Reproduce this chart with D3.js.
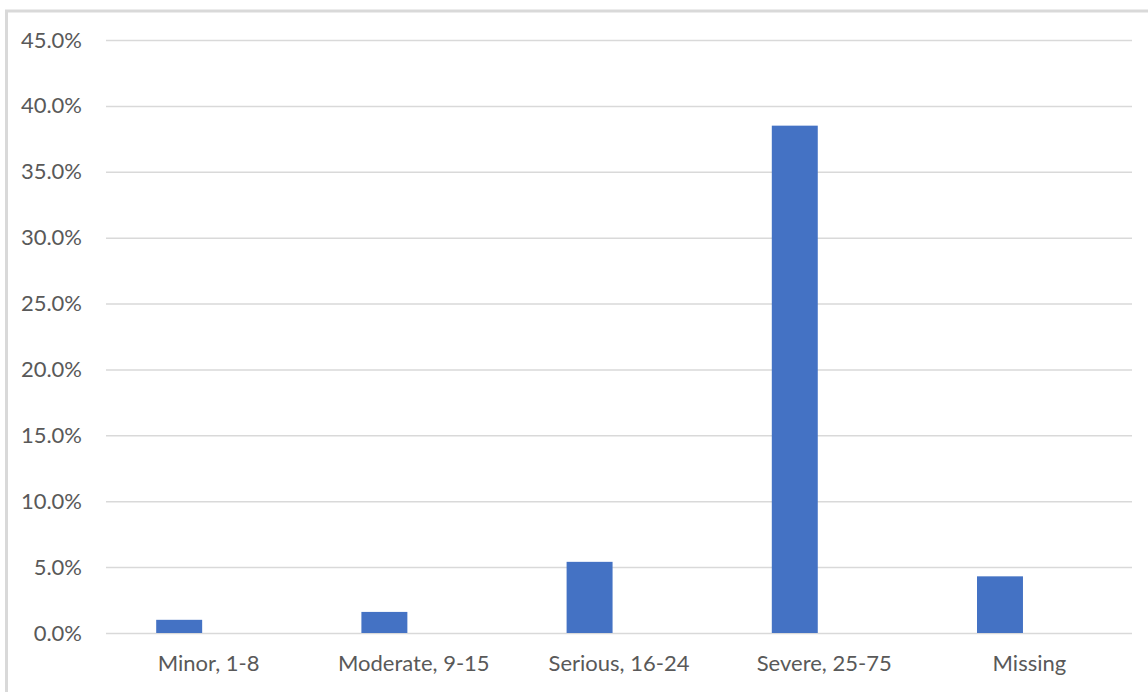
<!DOCTYPE html>
<html>
<head>
<meta charset="utf-8">
<script src="https://cdn.jsdelivr.net/npm/d3@7"></script>
<style>
  html, body { margin: 0; padding: 0; background: #fff; }
  svg { display: block; }
</style>
</head>
<body>
<div id="chart"></div>
<script>
// Injury severity groups and the share of cases in each
const categories = ["Minor, 1-8", "Moderate, 9-15", "Serious, 16-24", "Severe, 25-75", "Missing"];
const shares = [0.010, 0.016, 0.054, 0.385, 0.043];
const yTicks = [0, 0.05, 0.10, 0.15, 0.20, 0.25, 0.30, 0.35, 0.40, 0.45];

const W = 1148, H = 692;
const margin = { left: 106, right: 16, top: 40, bottom: 59 };

const svg = d3.select("#chart").append("svg")
  .attr("width", W).attr("height", H);

// Chart-area frame
svg.append("rect")
  .attr("x", 6.5).attr("y", 11)
  .attr("width", W + 10).attr("height", H + 10)
  .attr("fill", "#fff")
  .attr("stroke", "#d9d9d9").attr("stroke-width", 3);

const x = d3.scaleBand()
  .domain(categories)
  .range([margin.left, W - margin.right])
  .padding(0);

const y = d3.scaleLinear()
  .domain([0, 0.45])
  .range([H - margin.bottom, margin.top]);

const labelFont = "Lato, 'Open Sans', sans-serif";

// Horizontal gridlines + y labels
const yAxis = d3.axisLeft(y)
  .tickValues(yTicks)
  .tickFormat(d3.format(".1%"))
  .tickSize(-(W - margin.right - margin.left))
  .tickPadding(24);

const gy = svg.append("g")
  .attr("transform", `translate(${margin.left},0)`)
  .call(yAxis);
gy.select(".domain").remove();
gy.selectAll(".tick line").attr("stroke", "#d9d9d9").attr("stroke-width", 1.5);
gy.selectAll(".tick text")
  .attr("fill", "#595959")
  .style("font-family", labelFont)
  .style("font-size", "22px");

// Bars: sit in the left half of each category slot
const barW = x.bandwidth() * 0.224;
const barOffset = x.bandwidth() * 0.5 - 52.4;

svg.append("g").selectAll("rect")
  .data(categories.map((c, i) => ({ c, v: shares[i] })))
  .join("rect")
  .attr("x", d => x(d.c) + barOffset)
  .attr("y", d => y(d.v))
  .attr("width", barW)
  .attr("height", d => y(0) - y(d.v))
  .attr("fill", "#4472c4");

// Category labels
const xAxis = d3.axisBottom(x).tickSize(0).tickPadding(22);
const gx = svg.append("g")
  .attr("transform", `translate(0,${y(0)})`)
  .call(xAxis);
gx.select(".domain").remove();
gx.selectAll(".tick text")
  .attr("fill", "#595959")
  .style("font-family", labelFont)
  .style("font-size", "22px");
</script>
</body>
</html>
